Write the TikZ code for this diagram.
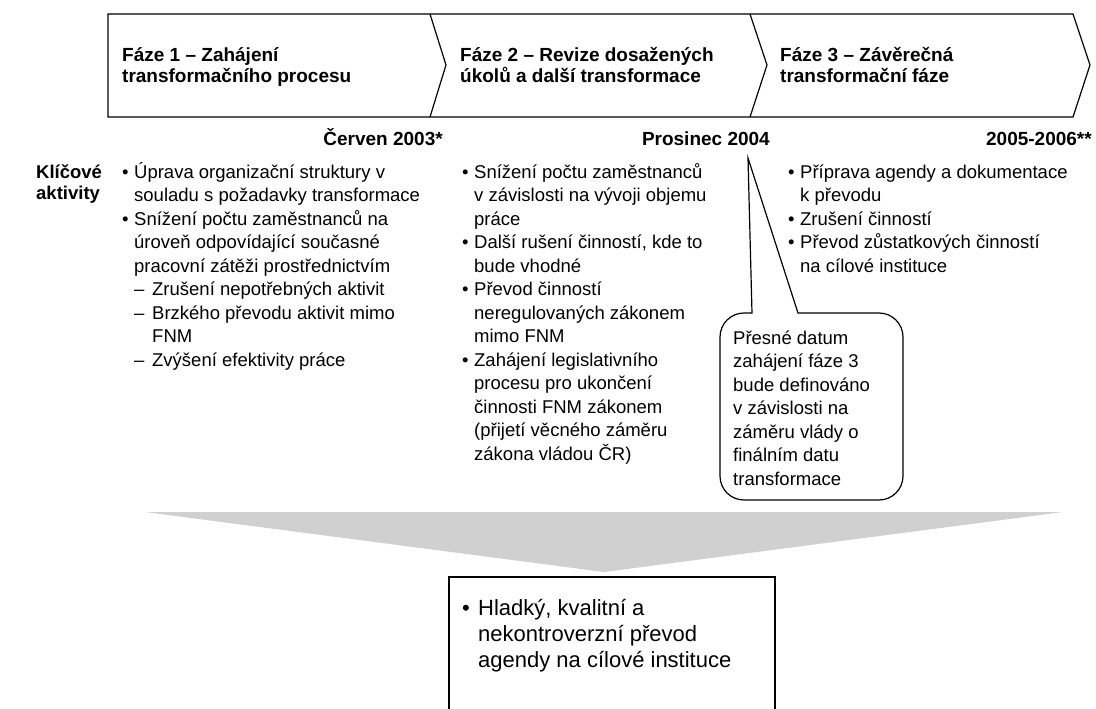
\documentclass[tikz,border=0pt]{standalone}
\usepackage{fontspec}
\setmainfont{Liberation Sans}
\usetikzlibrary{positioning}

\definecolor{arrowgray}{RGB}{208,208,208}

\newcommand{\bul}{\makebox[12pt][l]{\textbullet}}
\newcommand{\ind}{\hspace*{12pt}}
\newcommand{\dsh}{\hspace*{12pt}\makebox[18pt][l]{--}}
\newcommand{\dind}{\hspace*{30pt}}

\tikzset{
  phase/.style={draw, line width=1.2pt, line join=miter},
  % base = baseline of the last line
  head/.style={font=\fontsize{19}{21}\selectfont\bfseries, align=left, anchor=base west, inner sep=0pt},
  datum/.style={font=\fontsize{19}{21}\selectfont\bfseries, anchor=base east, inner sep=0pt},
  items/.style={font=\fontsize{18.5}{23.5}\selectfont, align=left, anchor=base west, inner sep=0pt},
  bigitems/.style={font=\fontsize{22}{26}\selectfont, align=left, anchor=base west, inner sep=0pt},
}

\begin{document}
\begin{tikzpicture}[x=1pt,y=-1pt]
    \useasboundingbox (0,0) rectangle (1096,709);

    % phases
    \draw[phase] (108,14) -- (1073,14) -- (1090,65) -- (1073,117) -- (108,117) -- cycle;
    \draw[phase] (430,14) -- (446,65) -- (430,117);
    \draw[phase] (750,14) -- (767,65) -- (750,117);
    \node[head] (faze1) at (122,83) {Fáze 1 -- Zahájení\\transformačního procesu};
    \node[head] (faze2) at (460,83) {Fáze 2 -- Revize dosažených\\úkolů a další transformace};
    \node[head] (faze3) at (780,83) {Fáze 3 -- Závěrečná\\transformační fáze};

    % dates
    \node[datum] (d1) at (443,146) {Červen 2003*};
    \node[datum] (d2) at (770,146) {Prosinec 2004};
    \node[datum] (d3) at (1092,146) {2005-2006**};

    % key activities
    \node[items, font=\fontsize{18.5}{21}\selectfont\bfseries] (klic) at (36,199) {Klíčové\\aktivity};
    \node[items] (akt1) at (122,366) {\bul Úprava organizační struktury v\\
      \ind souladu s požadavky transformace\\
      \bul Snížení počtu zaměstnanců na\\
      \ind úroveň odpovídající současné\\
      \ind pracovní zátěži prostřednictvím\\
      \dsh Zrušení nepotřebných aktivit\\
      \dsh Brzkého převodu aktivit mimo\\
      \dind FNM\\
      \dsh Zvýšení efektivity práce};
    \node[items] (akt2) at (462,460) {\bul Snížení počtu zaměstnanců\\
      \ind v závislosti na vývoji objemu\\
      \ind práce\\
      \bul Další rušení činností, kde to\\
      \ind bude vhodné\\
      \bul Převod činností\\
      \ind neregulovaných zákonem\\
      \ind mimo FNM\\
      \bul Zahájení legislativního\\
      \ind procesu pro ukončení\\
      \ind činnosti FNM zákonem\\
      \ind (přijetí věcného záměru\\
      \ind zákona vládou ČR)};
    \node[items] (akt3) at (788,272) {\bul Příprava agendy a dokumentace\\
      \ind k převodu\\
      \bul Zrušení činností\\
      \bul Převod zůstatkových činností\\
      \ind na cílové instituce};

    % callout
    \coordinate (tip) at (748,158);
    \draw[line width=1.2pt] (752,313) [rounded corners=24] -- (720,313) -- (720,500)
      -- (903,500) -- (903,313) [sharp corners] -- (798,313) -- (tip) -- cycle;
    \node[items] (pozn) at (733,485) {Přesné datum\\zahájení fáze 3\\bude definováno\\v závislosti na\\záměru vlády o\\finálním datu\\transformace};

    % result
    \fill[arrowgray] (145,512) -- (1063,512) -- (604,572) -- cycle;
    \draw[line width=1.2pt] (449,709) -- (449,577) -- (775,577) -- (775,709);
    \node[bigitems] (cil) at (462,667) {\makebox[16pt][l]{\textbullet}Hladký, kvalitní a\\
      \hspace*{16pt}nekontroverzní převod\\
      \hspace*{16pt}agendy na cílové instituce};
\end{tikzpicture}
\end{document}
